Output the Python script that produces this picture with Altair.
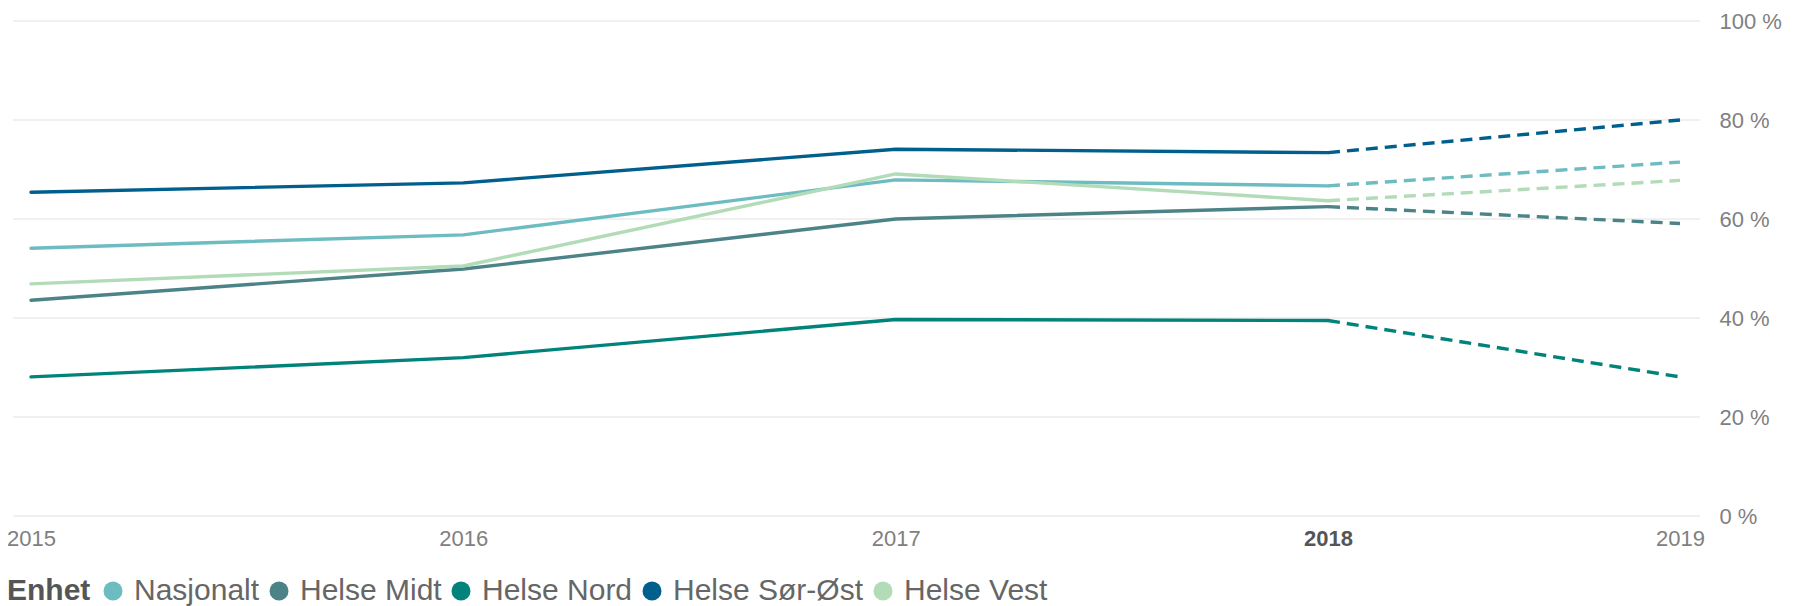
import altair as alt
import pandas as pd

years = [2015, 2016, 2017, 2018, 2019]
series_names = ["Nasjonalt", "Helse Midt", "Helse Nord", "Helse Sør-Øst", "Helse Vest"]
nasjonalt = [54.1, 56.8, 67.9, 66.7, 71.5]
helse_midt = [43.6, 49.9, 60.0, 62.5, 59.1]
helse_nord = [28.1, 32.0, 39.7, 39.5, 28.1]
helse_sor_ost = [65.4, 67.3, 74.1, 73.4, 80.0]
helse_vest = [46.9, 50.5, 69.1, 63.7, 67.8]
colors = ["#6DBCC1", "#4B8386", "#00837B", "#005F8D", "#B2DBB8"]
y_ticks = [0, 20, 40, 60, 80, 100]

values = [nasjonalt, helse_midt, helse_nord, helse_sor_ost, helse_vest]
rows = []
for name, vals in zip(series_names, values):
    for i, (yr, v) in enumerate(zip(years, vals)):
        rows.append({"Enhet": name, "Year": yr, "Value": v, "order": i})
df = pd.DataFrame(rows)
grid_df = pd.DataFrame({"Value": y_ticks})

FONT = "Liberation Sans"
W, H = 1687, 495

x_scale = alt.Scale(domain=[2015, 2018, 2019], range=[18, 1315, 1667], nice=False, zero=False)
y_scale = alt.Scale(domain=[0, 100], nice=False)

x_axis = alt.Axis(
    values=years, format="d", title=None, grid=False, domain=False, ticks=False,
    labelFlush=False, labelOverlap=False,
    labelPadding=12, labelFontSize=22, labelFont=FONT,
    labelColor={"condition": {"test": "datum.value === 2018", "value": "#555555"}, "value": "#808080"},
    labelFontWeight={"condition": {"test": "datum.value === 2018", "value": "bold"}, "value": "normal"},
)
y_axis = alt.Axis(
    orient="right", values=y_ticks, title=None, domain=False, ticks=False, grid=False,
    labelExpr="datum.value + ' %'", labelPadding=19, labelFontSize=22, labelFont=FONT,
    labelColor="#808080", labelAlign="left", labelBaseline="middle",
)

color_enc = alt.Color(
    "Enhet:N",
    scale=alt.Scale(domain=series_names, range=colors),
    sort=series_names,
    legend=alt.Legend(
        orient="none", legendX=-6, legendY=555, direction="horizontal", columns=5,
        titleOrient="left", title="Enhet", titleFontSize=30, titleFontWeight="bold",
        titleColor="#555555", titleFont=FONT, titlePadding=7,
        labelFontSize=30, labelColor="#666666", labelFont=FONT, labelOffset=6,
        symbolType="circle", symbolSize=361, symbolStrokeWidth=0, symbolOpacity=1,
        columnPadding=4, labelLimit=0,
    ),
)

grid = alt.Chart(grid_df).mark_rule(color="#EBEBEB", strokeWidth=1.6).encode(
    y=alt.Y("Value:Q", scale=y_scale, axis=y_axis),
    x=alt.value(0), x2=alt.value(W),
)

base = alt.Chart(df).encode(
    x=alt.X("Year:Q", scale=x_scale, axis=x_axis),
    y=alt.Y("Value:Q", scale=y_scale, axis=y_axis),
    color=color_enc, detail="Enhet:N", order="order:Q",
)

legend_pts = base.mark_point(filled=True, opacity=0, size=0)
solid = base.transform_filter("datum.Year <= 2018").mark_line(
    strokeWidth=3.4, strokeJoin="round", strokeCap="round"
)
dashed = base.transform_filter("datum.Year >= 2018").mark_line(
    strokeWidth=3.4, strokeDash=[12, 7], strokeCap="butt"
)

chart = (
    alt.layer(grid, legend_pts, solid, dashed)
    .properties(
        width=W, height=H,
        autosize=alt.AutoSizeParams(type="none"),
        padding={"left": 5, "top": 13, "right": 90, "bottom": 90},
        background="white",
    )
    .configure_view(stroke=None)
)

chart.save("out.html", embed_options={"renderer": "svg", "actions": False})
